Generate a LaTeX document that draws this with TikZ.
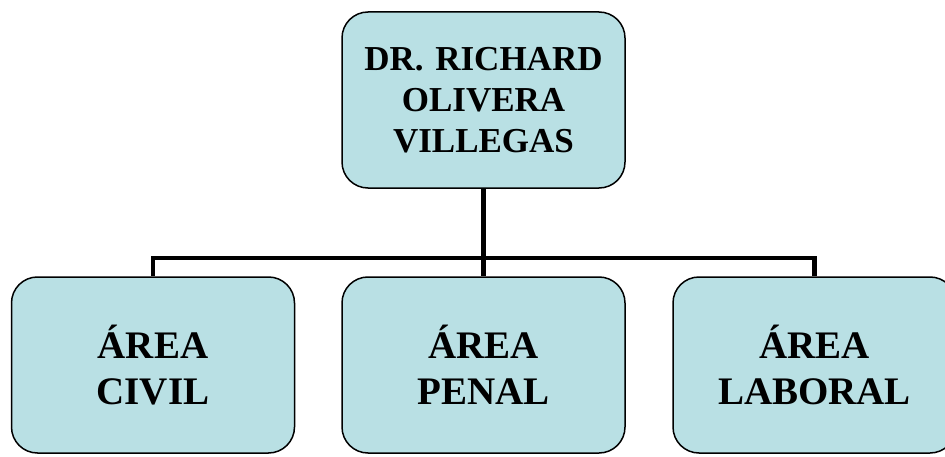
\documentclass[tikz,border=0pt]{standalone}
\usepackage{fontspec}
\setmainfont{Liberation Serif}
\usetikzlibrary{backgrounds}
\definecolor{boxfill}{RGB}{185,224,228}
\begin{document}
\begin{tikzpicture}[x=1pt,y=1pt,
  box/.style={draw=black, line width=1.5pt, fill=boxfill, rounded corners=26pt,
    minimum width=283pt, minimum height=176pt, align=center, inner sep=0pt,
    text width=275pt},
  toptext/.style={font=\fontsize{35}{41}\selectfont\bfseries},
  bottext/.style={font=\fontsize{39}{46}\selectfont\bfseries},
  conn/.style={line width=4.5pt, line join=miter}]
\useasboundingbox (0,0) rectangle (945,456);
\node[box, toptext] (top) at (483.5,356) {DR. RICHARD\\OLIVERA\\VILLEGAS};
\node[box, bottext] (civil) at (153,91) {ÁREA\\CIVIL};
\node[box, bottext] (penal) at (483.5,91) {ÁREA\\PENAL};
\node[box, bottext] (laboral) at (814.5,91) {ÁREA\\LABORAL};
\coordinate (bus) at (483.5,198);
\begin{scope}[on background layer]
\draw[conn] (top.south) -- (penal.north);
\draw[conn] (civil.north) |- (bus) -| (laboral.north);
\end{scope}
\end{tikzpicture}
\end{document}
